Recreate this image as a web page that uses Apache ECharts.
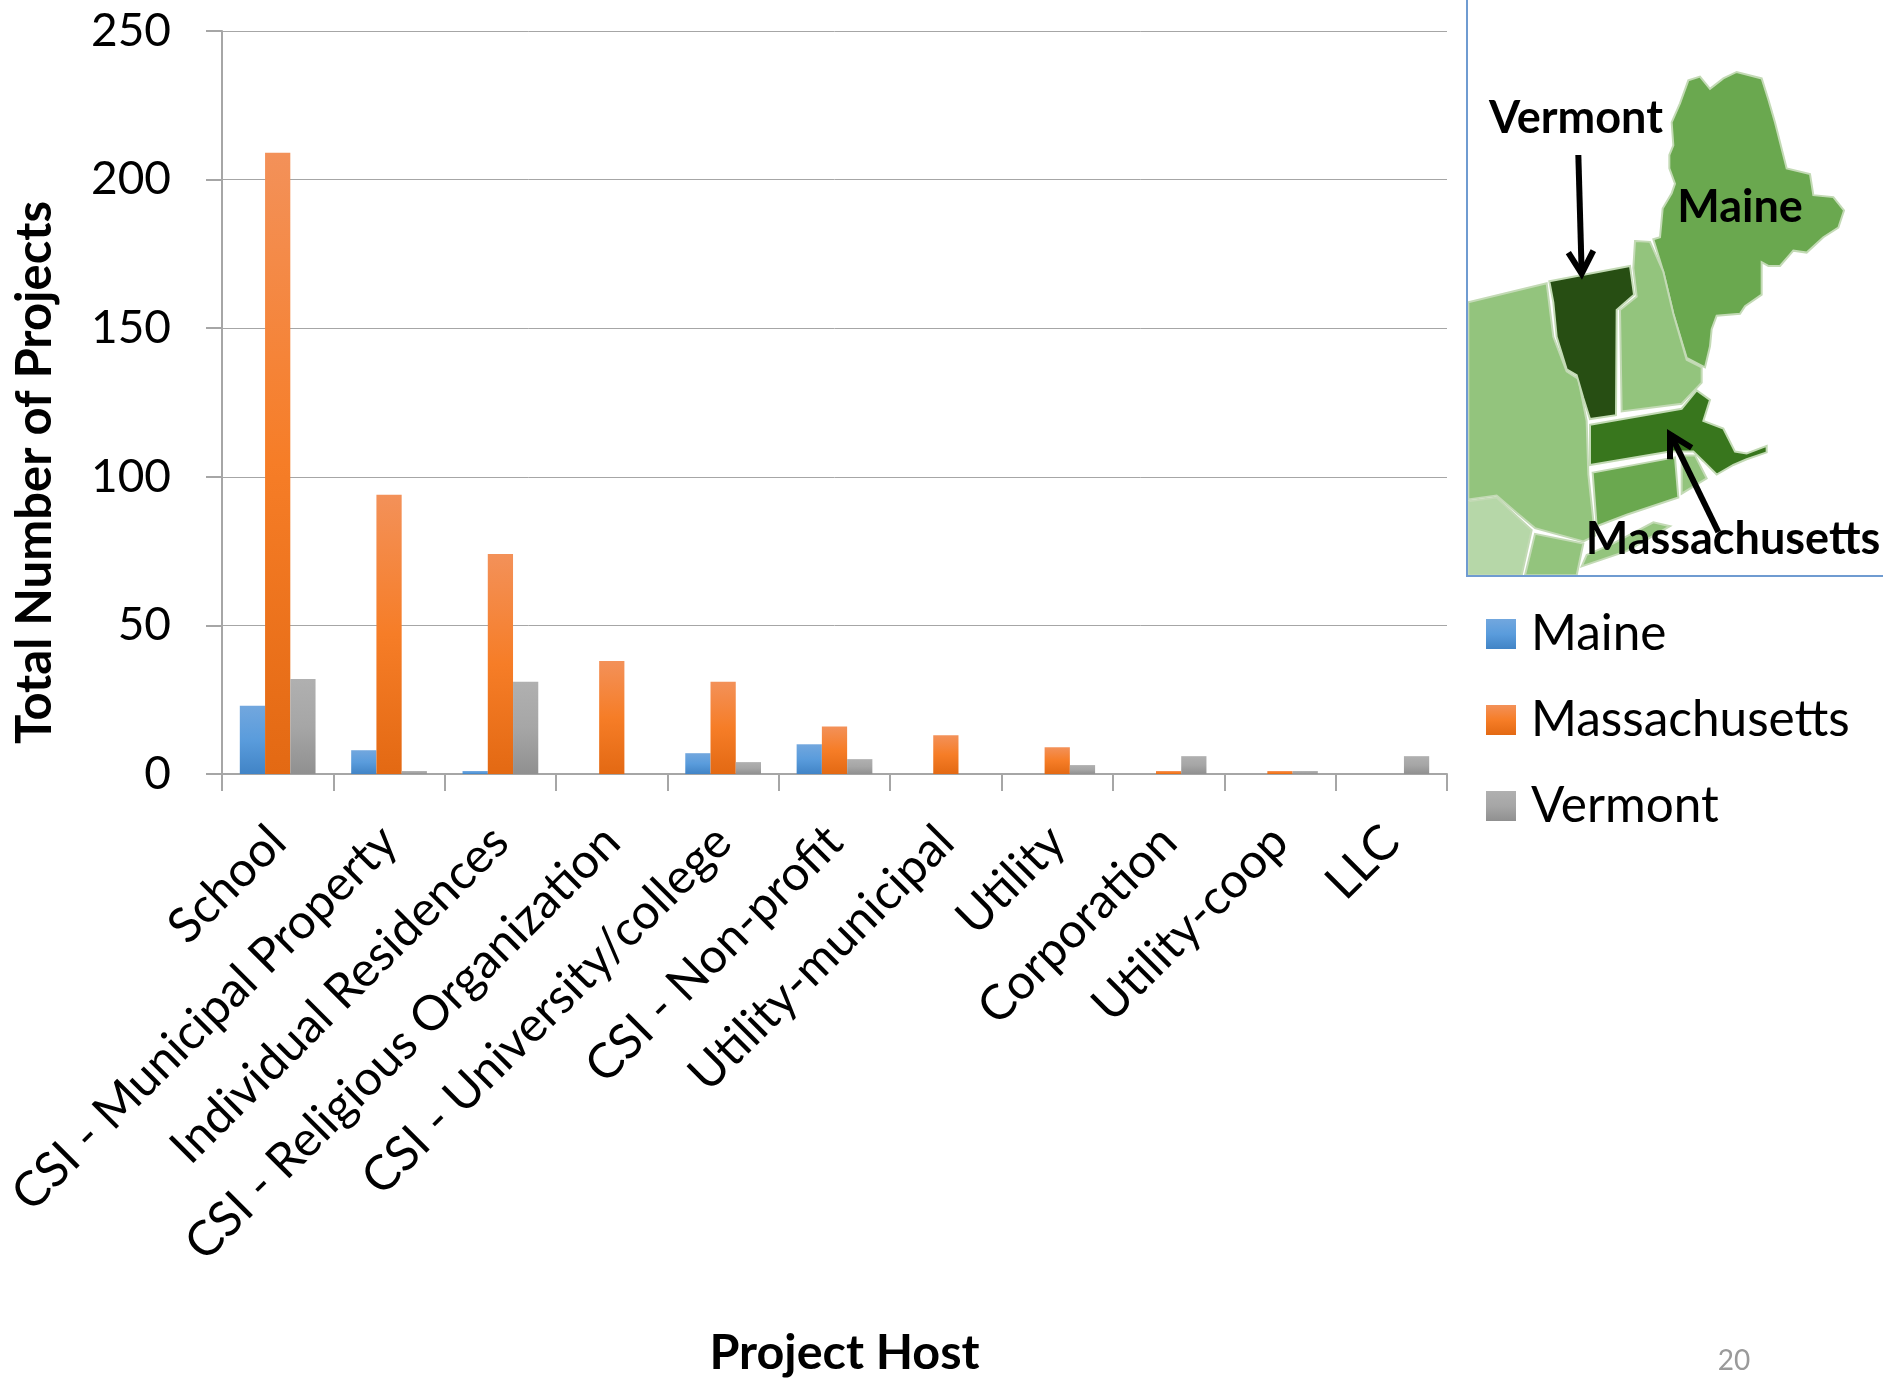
<!DOCTYPE html>
<html>
<head>
<meta charset="utf-8">
<style>html,body{margin:0;padding:0;background:#fff}#chart{width:1883px;height:1383px}</style>
<script src="https://cdn.jsdelivr.net/npm/echarts@6/dist/echarts.min.js"></script>
</head>
<body>
<div id="chart"></div>
<script>
// Renewable project counts by host type, for three New England states
const categories = ['School','CSI - Municipal Property','Individual Residences','CSI - Religious Organization','CSI - University/college','CSI - Non-profit','Utility-municipal','Utility','Corporation','Utility-coop','LLC'];
const maine = [23,8,1,0,7,10,0,0,0,0,0];
const massachusetts = [209,94,74,38,31,16,13,9,1,1,0];
const vermont = [32,1,31,0,4,5,0,3,6,1,6];

const FONT = 'Lato, "Open Sans", sans-serif';
const TEXT = '#000';

// Excel-style vertical shading for each series
function shade(top, mid, bottom) {
  return new echarts.graphic.LinearGradient(0, 0, 0, 1, [
    {offset: 0, color: top}, {offset: 0.5, color: mid}, {offset: 1, color: bottom}
  ]);
}
function barSeries(name, data, fill) {
  return {name, type: 'bar', data, barGap: 0, barCategoryGap: '32%', itemStyle: {color: fill}};
}

// Inset map of the north-east states, outlines in local units
const toPage = p => [1440 + p[0] / 3, p[1] * 0.3827];
const GREEN_MID = '#6aa84f', GREEN_SOFT = '#93c47d', GREEN_PALE = '#b6d7a8';
const regions = [
  [GREEN_SOFT, [[85,790],[320,740],[340,880],[380,970],[415,990],[440,1100],[445,1240],[465,1400],[430,1415],[285,1380],[230,1340],[170,1295],[85,1305]]],
  [GREEN_PALE, [[85,1310],[170,1300],[225,1345],[275,1385],[245,1503],[85,1503]]],
  [GREEN_SOFT, [[285,1395],[430,1420],[410,1503],[255,1503]]],
  [GREEN_SOFT, [[425,1480],[560,1440],[690,1375],[640,1365],[520,1420],[440,1450]]],
  [GREEN_MID, [[640,625],[660,620],[668,545],[695,505],[705,480],[688,440],[688,405],[700,380],[695,320],[720,270],[745,210],[780,200],[810,232],[850,205],[890,188],[965,205],[985,260],[1005,320],[1040,440],[1110,455],[1120,510],[1180,515],[1212,550],[1195,595],[1150,620],[1100,660],[1060,655],[1020,695],[985,695],[965,685],[965,770],[915,800],[900,820],[830,825],[815,860],[810,905],[795,960],[740,935],[700,820],[670,710]]],
  [GREEN_SOFT, [[585,630],[630,632],[670,710],[700,820],[740,940],[785,960],[785,1000],[725,1055],[545,1075],[540,810],[590,775],[580,700]]],
  ['#274e13', [[328,735],[570,695],[582,770],[530,810],[528,1085],[450,1095],[430,1040],[410,980],[380,965],[350,880],[340,790]]],
  [GREEN_MID, [[458,1235],[705,1195],[715,1300],[560,1345],[470,1375]]],
  [GREEN_SOFT, [[725,1190],[765,1190],[800,1250],[725,1290]]],
  ['#38761d', [[450,1110],[725,1068],[770,1020],[810,1045],[790,1100],[850,1120],[885,1180],[920,1185],[980,1165],[980,1182],[920,1200],[880,1215],[830,1240],[790,1205],[760,1180],[690,1180],[450,1215]]]
];
const arrows = [
  [[415,405],[425,712]], [[385,660],[425,715],[460,655]],
  [[835,1390],[692,1135]], [[690,1200],[690,1135],[755,1170]]
];
const mapLabels = [['Vermont',1576,118],['Maine',1740,207],['Massachusetts',1733,539]];

const mapGraphics = [
  ...regions.map(([fill, pts]) => ({
    type: 'polygon', silent: true, z: 10,
    shape: {points: pts.map(toPage)},
    style: {fill, stroke: '#c3dab5', lineWidth: 2}
  })),
  {type: 'polyline', silent: true, z: 11,
    shape: {points: [[1467,0],[1467,576],[1883,576]]},
    style: {fill: null, stroke: '#6f9bd1', lineWidth: 2}},
  ...arrows.map(pts => ({
    type: 'polyline', silent: true, z: 12,
    shape: {points: pts.map(toPage)},
    style: {fill: null, stroke: '#000', lineWidth: 6}
  })),
  ...mapLabels.map(([text, x, y]) => ({
    type: 'text', silent: true, z: 13, x, y,
    style: {text, fill: '#000', font: 'bold 45px ' + FONT, textAlign: 'center', textVerticalAlign: 'middle'}
  })),
  {type: 'text', silent: true, z: 13, x: 1734, y: 1361,
    style: {text: '20', fill: '#9a9a9a', font: '28px ' + FONT, textAlign: 'center', textVerticalAlign: 'middle'}}
];

const chart = echarts.init(document.getElementById('chart'), null, {renderer: 'canvas'});
chart.setOption({
  animation: false,
  backgroundColor: '#fff',
  grid: {left: 222, right: 436, top: 31, bottom: 608.5, containLabel: false},
  legend: {
    orient: 'vertical', left: 1486, top: 609, padding: 0, itemWidth: 30, itemHeight: 30, itemGap: 36,
    icon: 'rect',
    textStyle: {fontFamily: FONT, fontSize: 49.5, lineHeight: 30, height: 30, color: TEXT, padding: [0, 0, 0, 10]},
    data: ['Maine', 'Massachusetts', 'Vermont']
  },
  xAxis: {
    type: 'category', data: categories,
    name: 'Project Host', nameLocation: 'middle', nameGap: 555,
    nameTextStyle: {fontFamily: FONT, fontSize: 48.5, fontWeight: 'bold', color: TEXT, padding: [0, 0, 0, 20]},
    axisLine: {lineStyle: {color: '#a6a6a6', width: 2}},
    axisTick: {show: true, length: 17, lineStyle: {color: '#a6a6a6', width: 2}},
    axisLabel: {interval: 0, rotate: 45, margin: 60, fontFamily: FONT, fontSize: 48.5, color: TEXT}
  },
  yAxis: {
    type: 'value', min: 0, max: 250, interval: 50,
    name: 'Total Number of Projects', nameLocation: 'middle', nameGap: 162,
    nameTextStyle: {fontFamily: FONT, fontSize: 49, fontWeight: 'bold', color: TEXT, padding: [0, 140, 0, 0]},
    axisLine: {show: true, lineStyle: {color: '#a6a6a6', width: 2}},
    axisTick: {show: true, length: 16, lineStyle: {color: '#a6a6a6', width: 2}},
    splitLine: {lineStyle: {color: '#a6a6a6', width: 1}},
    axisLabel: {margin: 51, fontFamily: FONT, fontSize: 46, color: TEXT}
  },
  series: [
    barSeries('Maine', maine, shade('#72a7de', '#5a9cdc', '#4184c6')),
    barSeries('Massachusetts', massachusetts, shade('#f39159', '#f67d27', '#e36913')),
    barSeries('Vermont', vermont, shade('#b0b0b0', '#a6a6a6', '#909090'))
  ],
  graphic: mapGraphics
});
</script>
</body>
</html>
